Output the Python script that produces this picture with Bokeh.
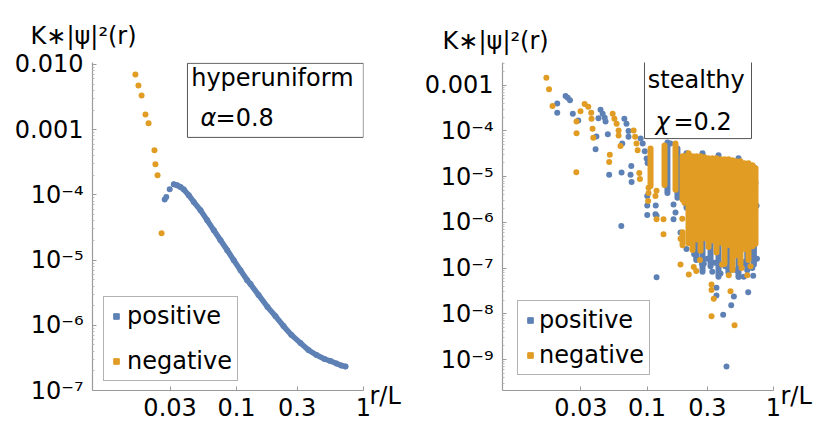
from bokeh.plotting import figure
from bokeh.layouts import row
from bokeh.models import (FixedTicker, CustomJSTickFormatter, Legend, LegendItem,
                          Label, Range1d)
from bokeh.core.properties import value
from bokeh.embed import file_html
from bokeh.resources import INLINE

BLUE = "#5E81B5"
ORANGE = "#E19C24"
FONT = "DejaVu Sans"
AXIS_GRAY = "#9a9a9a"

# ---------------- data: left panel (hyperuniform, alpha = 0.8) ----------------
hu_pos_r = [0.0272, 0.0280, 0.0298, 0.0321, 0.0341, 0.0362, 0.0385, 0.0421, 0.0461,
            0.0521, 0.0588, 0.0663, 0.0748, 0.0845, 0.0952, 0.1075, 0.1214, 0.1289,
            0.1490, 0.1754, 0.2028, 0.2345, 0.2711, 0.3190, 0.3688, 0.4265, 0.4931,
            0.5497, 0.6129, 0.6709, 0.7216]
hu_pos_v = [8.47e-5, 9.29e-5, 1.22e-4, 1.45e-4, 1.40e-4, 1.32e-4, 1.21e-4, 9.86e-5, 7.79e-5,
            5.81e-5, 4.08e-5, 2.87e-5, 2.02e-5, 1.42e-5, 9.96e-6, 7.00e-6, 4.92e-6, 4.28e-6,
            2.92e-6, 1.91e-6, 1.38e-6, 9.72e-7, 7.08e-7, 5.34e-7, 4.17e-7, 3.50e-7, 3.04e-7,
            2.83e-7, 2.59e-7, 2.41e-7, 2.33e-7]
hu_neg_r = [0.0160, 0.0169, 0.0179, 0.0192, 0.0203, 0.0226, 0.0230, 0.0239, 0.0257]
hu_neg_v = [7.03e-3, 4.76e-3, 3.35e-3, 1.71e-3, 1.25e-3, 4.82e-4, 2.94e-4, 2.00e-4, 2.58e-5]

# ---------------- data: right panel (stealthy, chi = 0.2) ----------------
st_pos_r = [0.0195, 0.0195, 0.0227, 0.0236, 0.0246, 0.0259, 0.0286, 0.0392, 0.0398, 0.0413,
            0.0429, 0.0446, 0.0463, 0.0470, 0.0490, 0.0502, 0.0629, 0.0637, 0.0662, 0.0688,
            0.0714, 0.0714, 0.0751, 0.0741, 0.0755, 0.0890, 0.0925, 0.0960, 0.0993, 0.1010,
            0.1004, 0.1166, 0.0626, 0.1190, 0.1004, 0.1004, 0.1172, 0.1189, 0.162, 0.168,
            0.162, 0.153, 0.278, 0.281, 0.354, 0.354, 0.486, 0.463, 0.400, 0.425,
            0.631, 0.532, 0.582, 0.691, 0.582, 0.658, 0.328, 0.272, 0.381, 0.548,
            0.221, 0.7207, 0.735, 0.184, 0.205, 0.236, 0.300, 0.345, 0.415, 0.470,
            0.510, 0.600, 0.680, 0.740]
st_pos_v = [4.0e-4, 2.5e-4, 5.8e-4, 5.3e-4, 4.7e-4, 2.37e-4, 1.7e-4, 4.0e-5, 7.6e-5, 1.9e-4,
            2.9e-4, 2.37e-4, 1.94e-4, 1.6e-4, 8.5e-5, 1.1e-5, 1.24e-5, 5.3e-5, 1.84e-4, 1.44e-4,
            1.0e-4, 7.5e-5, 1.7e-5, 1.1e-5, 7.6e-6, 6.8e-5, 5.3e-5, 3.6e-5, 2.5e-5, 2.0e-5,
            1.45e-6, 1.5e-6, 8.3e-7, 6.3e-8, 3.76e-6, 2.35e-6, 2.35e-6, 1.39e-6, 2.45e-6, 1.64e-6,
            1.17e-6, 5.3e-5, 2.65e-5, 1.25e-7, 3.7e-8, 2.5e-8, 2.4e-8, 1.53e-8, 9.5e-9, 7.0e-10,
            2.96e-8, 6.5e-8, 6.5e-8, 6.8e-8, 1.25e-7, 3.0e-7, 8.3e-8, 1.25e-7, 7.6e-8, 1.16e-7,
            3.7e-7, 7.3e-6, 2.3e-6, 6.0e-7, 2.6e-7, 2.0e-7, 1.6e-7, 1.3e-7, 1.1e-7, 1.45e-7,
            9.0e-8, 1.4e-7, 1.0e-7, 1.6e-7]
st_neg_r = [0.0160, 0.0168, 0.0179, 0.0277, 0.0277, 0.0276, 0.0298, 0.0321, 0.0343, 0.0362,
            0.0364, 0.0371, 0.0376, 0.0508, 0.0502, 0.0535, 0.0552, 0.0575, 0.0596, 0.0596,
            0.0617, 0.0784, 0.0805, 0.0826, 0.0843, 0.0869, 0.0879, 0.1028, 0.1028, 0.1020,
            0.1166, 0.1189, 0.1189, 0.135, 0.135, 0.184, 0.214, 0.245, 0.234, 0.3236,
            0.3236, 0.337, 0.457, 0.3236, 0.492, 0.620, 0.532, 0.658, 0.443, 0.184, 0.19,
            0.262, 0.392, 0.560]
st_neg_v = [1.46e-3, 8.2e-4, 3.5e-4, 1.6e-4, 8.9e-5, 1.25e-5, 2.7e-4, 3.9e-4, 3.4e-4, 2.5e-4,
            1.84e-4, 1.12e-4, 7.1e-5, 3.03e-5, 2.1e-5, 2.37e-4, 1.84e-4, 1.44e-4, 1.02e-4, 7.9e-5,
            4.7e-5, 1.02e-4, 7.5e-5, 5.3e-5, 3.8e-5, 1.2e-5, 8.9e-6, 5.7e-6, 4.4e-6, 2.93e-6,
            3.76e-6, 4.9e-6, 1.17e-6, 5.5e-7, 1.17e-6, 1.2e-7, 7.2e-8, 8.6e-8, 1.06e-7, 4.4e-8,
            3.33e-8, 2.13e-8, 3.1e-8, 8.8e-9, 5.65e-9, 7.0e-8, 1.9e-7, 1.1e-7, 7.0e-8, 4.4e-7, 1.2e-6,
            1.5e-7, 1.2e-7, 1.0e-7]
# dense vertical runs of points (r, lowest value, highest value)
st_pos_run_r = [0.145, 0.174, 0.2052, 0.2746, 0.3674, 0.5287, 0.245, 0.318, 0.44, 0.62, 0.70]
st_pos_run_lo = [4.4e-6, 3.45e-6, 2.10e-6, 8.28e-8, 6.46e-8, 6.46e-8, 1.5e-7, 1.1e-7, 8.0e-8,
                 9.0e-8, 1.2e-7]
st_pos_run_hi = [5.6e-5, 4.15e-5, 3.24e-5, 3.24e-5, 2.93e-5, 2.52e-5, 2.0e-5, 2.0e-5, 2.0e-5,
                 1.8e-5, 1.6e-5]
st_neg_run_r = [0.1066, 0.1375, 0.168, 0.191, 0.191, 0.1979, 0.2129, 0.2290, 0.2461, 0.2648,
                0.2848, 0.3063, 0.3294, 0.3542, 0.3811, 0.4100, 0.4407, 0.4740, 0.5099, 0.5483,
                0.5898, 0.6343, 0.6823, 0.7207]
st_neg_run_lo = [6.27e-6, 6.59e-6, 5.2e-6, 3.13e-6, 3.17e-7, 2.69e-6, 3.5e-7, 2.5e-7, 4.2e-7, 2.4e-7,
                 4.5e-7, 2.9e-7, 4.0e-7, 2.2e-7, 3.6e-7, 1.23e-7, 3.2e-7, 9.1e-8, 1.9e-7, 1.23e-7,
                 2.6e-7, 1.5e-7, 3.0e-7, 3.4e-7]
st_neg_run_hi = [4.15e-5, 4.81e-5, 5.3e-5, 2.79e-5, 6.05e-7, 2.79e-5, 3.24e-5, 2.79e-5, 2.79e-5, 2.79e-5,
                 2.65e-5, 2.52e-5, 2.52e-5, 2.52e-5, 2.40e-5, 2.40e-5, 2.40e-5, 2.28e-5, 2.17e-5, 2.17e-5,
                 1.97e-5, 1.97e-5, 1.78e-5, 1.53e-5]

# ---------------- ticks ----------------
x_ticks = [0.03, 0.1, 0.3, 1.0]
x_labels = ["0.03", "0.1", "0.3", "1"]
hu_y_ticks = [1e-7, 1e-6, 1e-5, 1e-4, 1e-3, 1e-2]
hu_y_labels = ["10\u207b\u2077", "10\u207b\u2076", "10\u207b\u2075", "10\u207b\u2074", "0.001", "0.010"]
st_y_ticks = [1e-9, 1e-8, 1e-7, 1e-6, 1e-5, 1e-4, 1e-3]
st_y_labels = ["10\u207b\u2079", "10\u207b\u2078", "10\u207b\u2077", "10\u207b\u2076", "10\u207b\u2075",
               "10\u207b\u2074", "0.001"]

YTITLE = "K\u2217|\u03c8|\u00b2(r)"

JS = """
let best = 0, bd = 1e9;
for (let i = 0; i < tk.length; i++) {
  const d = Math.abs(Math.log10(tick) - Math.log10(tk[i]));
  if (d < bd) { bd = d; best = i; }
}
return lb[best];
"""


def minor_for(lo_dec, hi_dec):
    out = []
    for d in range(lo_dec, hi_dec):
        for k in range(2, 10):
            out.append(k * 10.0 ** d)
    return out


def make_fig(w, xr, yr, borders, yt, yl, minor):
    l, r, t, b = borders
    p = figure(width=w, height=437, x_axis_type="log", y_axis_type="log",
               x_range=Range1d(*xr), y_range=Range1d(*yr),
               output_backend="svg", toolbar_location=None, min_border=0,
               min_border_left=l, min_border_right=r, min_border_top=t, min_border_bottom=b)
    p.outline_line_color = None
    p.xgrid.visible = False
    p.ygrid.visible = False
    p.background_fill_color = "white"
    p.border_fill_color = "white"
    p.xaxis.ticker = FixedTicker(ticks=x_ticks, minor_ticks=[])
    p.xaxis.formatter = CustomJSTickFormatter(args=dict(tk=x_ticks, lb=x_labels), code=JS)
    p.yaxis.ticker = FixedTicker(ticks=yt, minor_ticks=minor)
    p.yaxis.formatter = CustomJSTickFormatter(args=dict(tk=yt, lb=yl), code=JS)
    for ax in (p.xaxis, p.yaxis):
        ax.axis_line_color = AXIS_GRAY
        ax.axis_line_width = 1.2
        ax.major_tick_line_color = AXIS_GRAY
        ax.minor_tick_line_color = "#bbbbbb"
        ax.major_tick_in = 4
        ax.major_tick_out = 0
        ax.minor_tick_in = 2
        ax.minor_tick_out = 0
        ax.major_label_text_font = FONT
        ax.major_label_text_font_size = "24px"
        ax.major_label_text_color = "black"
    p.xaxis.major_label_standoff = 7
    p.yaxis.major_label_standoff = 9
    return p


def add_legend(p, loc, spacing, standoff):
    lp = p.scatter(x=[1e3], y=[1e3], marker="square", size=6, color=BLUE)
    ln = p.scatter(x=[1e3], y=[1e3], marker="square", size=6, color=ORANGE)
    leg = Legend(items=[LegendItem(label="positive", renderers=[lp]),
                        LegendItem(label="negative", renderers=[ln])],
                 location=loc, orientation="vertical", margin=0, padding=5,
                 spacing=spacing, glyph_width=14, glyph_height=14,
                 label_standoff=standoff, label_height=28,
                 label_text_font=FONT, label_text_font_size="24px", label_text_color="black",
                 border_line_color="#666666", border_line_width=1,
                 background_fill_color="white", background_fill_alpha=1.0)
    p.add_layout(leg)


def add_titles(p, tx, ty, rx, ry):
    p.add_layout(Label(x=tx, y=ty, text=YTITLE,
                       text_font=FONT, text_font_size="24px", text_baseline="middle",
                       text_align="left", text_color="black"), "above")
    p.add_layout(Label(x=rx, y=ry, text="r/L",
                       text_font=FONT, text_font_size="24px", text_baseline="middle",
                       text_align="left", text_color="black"), "right")


# ---------------- left figure ----------------
p1 = make_fig(415, (0.00735, 1.0), (1e-7, 0.0107), (92, 52, 62, 47),
              hu_y_ticks, hu_y_labels, minor_for(-7, -2))
p1.line(x=hu_pos_r[3:], y=hu_pos_v[3:], line_width=5.5, color=BLUE, line_cap="round",
        line_join="round")
p1.scatter(x=hu_pos_r, y=hu_pos_v, size=6, color=BLUE, line_color=None)
p1.scatter(x=hu_neg_r, y=hu_neg_v, size=6, color=ORANGE, line_color=None)
p1.quad(left=[0.0411], right=[0.998], bottom=[7.6e-4], top=[0.0104],
        fill_color="white", line_color="#555555", line_width=1)
p1.text(x=[0.0440], y=[6.3e-3], text=["hyperuniform"], text_font=value(FONT),
        text_font_size="24px", text_baseline="middle", text_align="left", text_color="black")
p1.text(x=[0.0521], y=[1.49e-3], text=["\u03b1"], text_font=value(FONT), text_font_style="italic",
        text_font_size="24px", text_baseline="middle", text_align="left", text_color="black")
p1.text(x=[0.0521], y=[1.49e-3], x_offset=15, text=["=0.8"], text_font=value(FONT),
        text_font_size="24px", text_baseline="middle", text_align="left", text_color="black")
add_legend(p1, (11, 9), 17, 4)
add_titles(p1, 0.00239, 0.0268, 1.115, 8.24e-8)

# ---------------- right figure ----------------
p2 = make_fig(414, (0.0072, 1.0), (2.1e-10, 3.14e-3), (87, 56, 58, 47),
              st_y_ticks, st_y_labels, minor_for(-10, -2))
p2.segment(x0=st_pos_run_r, y0=st_pos_run_lo, x1=st_pos_run_r, y1=st_pos_run_hi,
           line_width=6, line_cap="round", color=BLUE)
p2.scatter(x=st_pos_r, y=st_pos_v, size=6, color=BLUE, line_color=None)
p2.segment(x0=st_neg_run_r, y0=st_neg_run_lo, x1=st_neg_run_r, y1=st_neg_run_hi,
           line_width=6, line_cap="round", color=ORANGE)
p2.scatter(x=st_neg_r, y=st_neg_v, size=6, color=ORANGE, line_color=None)
p2.quad(left=[0.0955], right=[0.670], bottom=[6.8e-5], top=[0.05],
        fill_color="white", line_color="#555555", line_width=1)
p2.text(x=[0.1015], y=[1.28e-3], text=["stealthy"], text_font=value(FONT),
        text_font_size="24px", text_baseline="middle", text_align="left", text_color="black")
p2.text(x=[0.1167], y=[1.59e-4], text=["\u03c7"], text_font=value(FONT), text_font_style="italic",
        text_font_size="24px", text_baseline="middle", text_align="left", text_color="black")
p2.text(x=[0.1167], y=[1.59e-4], x_offset=18, text=["=0.2"], text_font=value(FONT),
        text_font_size="24px", text_baseline="middle", text_align="left", text_color="black")
add_legend(p2, (15, 15), 7, 2)
add_titles(p2, 0.00242, 9.38e-3, 1.136, 1.57e-10)

layout = row(p1, p2)
open("out.html", "w").write(file_html(layout, INLINE))
